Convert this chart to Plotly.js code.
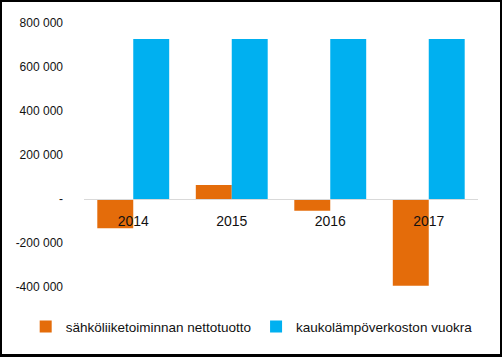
<!DOCTYPE html>
<html>
<head>
<meta charset="utf-8">
<script src="https://cdn.plot.ly/plotly-3.0.1.min.js"></script>
<style>
html,body{margin:0;padding:0;background:#fff;}
#wrap{width:502px;height:357px;box-sizing:border-box;border:2px solid #000;border-bottom-width:3px;overflow:hidden;}
</style>
</head>
<body>
<div id="wrap"><div id="chart"></div></div>
<script>
const years = ['2014', '2015', '2016', '2017'];
const nettotuotto = [-133000, 64000, -53000, -394000];
const vuokra = [727000, 727000, 727000, 727000];
const yTickVals = [-400000, -200000, 0, 200000, 400000, 600000, 800000];
const yTickText = ['-400 000', '-200 000', '-', '200 000', '400 000', '600 000', '800 000'];
const seriesNames = ['sähköliiketoiminnan nettotuotto', 'kaukolämpöverkoston vuokra'];

const traces = [
  {type: 'bar', x: years, y: nettotuotto, name: seriesNames[0], marker: {color: '#E46C0A'}},
  {type: 'bar', x: years, y: vuokra, name: seriesNames[1], marker: {color: '#00B0F0'}}
];

const layout = {
  width: 497, height: 352,
  margin: {l: 82, r: 21, t: 21, b: 67},
  paper_bgcolor: '#fff', plot_bgcolor: '#fff',
  font: {family: 'Liberation Sans, Arial, sans-serif', color: '#111'},
  barmode: 'group', bargap: 0.27, bargroupgap: 0,
  showlegend: true,
  legend: {orientation: 'h', x: -0.148, xanchor: 'left',
           y: -0.15, yanchor: 'middle', font: {size: 13.5}, itemwidth: 30, tracegroupgap: 0},
  xaxis: {type: 'category', anchor: 'free', position: 1/3, showline: true, linecolor: '#D9D9D9', linewidth: 1,
          showgrid: false, zeroline: false, ticks: '', tickfont: {size: 14}, ticklabelstandoff: 9},
  yaxis: {range: [-400000, 800000], tickvals: yTickVals, ticktext: yTickText, showgrid: false,
          zeroline: false, showline: false, ticks: '', tickfont: {size: 12}, ticklabelstandoff: 20}
};

Plotly.newPlot('chart', traces, layout, {displayModeBar: false, staticPlot: true});
</script>
</body>
</html>
